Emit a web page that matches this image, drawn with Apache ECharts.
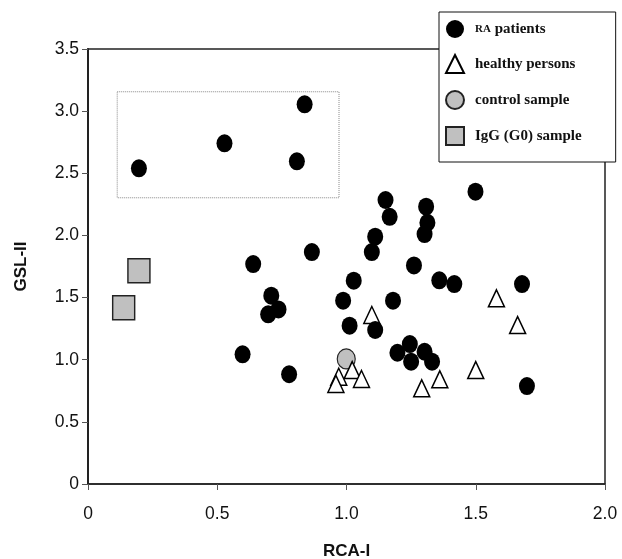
<!DOCTYPE html>
<html>
<head>
<meta charset="utf-8">
<script src="https://cdn.jsdelivr.net/npm/echarts@6/dist/echarts.min.js"></script>
<style>html,body{margin:0;padding:0;background:#fff}#c{width:622px;height:559px}</style>
</head>
<body>
<div id="c"></div>
<script>
// RCA-I (x) and GSL-II (y) values
const raPatients = [
  [0.197,2.540],[0.528,2.741],[0.838,3.055],[0.808,2.596],
  [0.639,1.770],[0.866,1.866],[0.709,1.515],[0.737,1.405],[0.697,1.365],
  [0.598,1.043],[0.778,0.883],[1.028,1.636],[0.987,1.475],[1.012,1.274],
  [1.499,2.352],[1.151,2.285],[1.167,2.150],[1.308,2.231],[1.313,2.102],
  [1.302,2.011],[1.111,1.990],[1.098,1.866],[1.261,1.759],[1.359,1.639],
  [1.417,1.609],[1.679,1.609],[1.180,1.475],[1.111,1.239],[1.245,1.126],
  [1.197,1.056],[1.302,1.064],[1.250,0.984],[1.331,0.984],[1.698,0.788]
];
const healthyPersons = [
  [1.580,1.494],[1.662,1.279],[1.098,1.360],[1.022,0.917],[1.058,0.845],
  [0.970,0.863],[0.959,0.805],[1.291,0.770],[1.361,0.842],[1.500,0.917]
];
const controlSample = [[0.999,1.006]];
const iggSample = [[0.197,1.716],[0.138,1.418]];
const highlightBox = [[0.113,3.156],[0.971,2.303]];
const seriesNames = ['RA patients','healthy persons','control sample','IgG (G0) sample'];
const xTicks = [0,0.5,1.0,1.5,2.0];
const yTicks = [0,0.5,1.0,1.5,2.0,2.5,3.0,3.5];

const fmt = v => v === 0 ? '0' : v.toFixed(1);
const chart = echarts.init(document.getElementById('c'), null, {renderer:'canvas'});
chart.setOption({
  animation:false,
  backgroundColor:'#fff',
  grid:{left:88,right:17,top:49,bottom:75,outerBoundsMode:'none',containLabel:false,show:true,borderColor:'#222',borderWidth:1.5,backgroundColor:'transparent'},
  xAxis:{
    type:'value',min:xTicks[0],max:xTicks[xTicks.length-1],interval:0.5,
    name:'RCA-I',nameLocation:'middle',nameGap:59,
    nameTextStyle:{fontFamily:'Liberation Sans',fontWeight:'bold',fontSize:17,color:'#111'},
    axisLine:{lineStyle:{color:'#222',width:1.5}},
    axisTick:{show:true,inside:false,length:6,lineStyle:{color:'#555',width:1}},
    axisLabel:{formatter:fmt,fontFamily:'Liberation Sans',fontSize:17.5,color:'#111',margin:21},
    splitLine:{show:false}
  },
  yAxis:{
    type:'value',min:yTicks[0],max:yTicks[yTicks.length-1],interval:0.5,
    name:'GSL-II',nameLocation:'middle',nameGap:58,nameRotate:90,
    nameTextStyle:{fontFamily:'Liberation Sans',fontWeight:'bold',fontSize:17,color:'#111'},
    axisLine:{lineStyle:{color:'#222',width:2}},
    axisTick:{show:true,inside:false,length:6,lineStyle:{color:'#555',width:1}},
    axisLabel:{formatter:fmt,fontFamily:'Liberation Sans',fontSize:17.5,color:'#111',margin:9},
    splitLine:{show:false}
  },
  legend:{
    data:seriesNames,orient:'vertical',left:439,top:12,
    backgroundColor:'#fff',borderColor:'#111',borderWidth:1,
    padding:[8,34,16,6],itemWidth:18,itemHeight:18,itemGap:16,
    textStyle:{fontFamily:'Liberation Serif',fontWeight:'bold',fontSize:15,color:'#111',padding:[0,0,0,6],
      rich:{s:{fontFamily:'Liberation Serif',fontWeight:'bold',fontSize:11,color:'#111'}}},
    formatter:name => name === 'RA patients' ? '{s|RA} patients' : name,
    z:10
  },
  series:[
    {name:seriesNames[2],type:'scatter',data:controlSample,symbol:'circle',symbolSize:[18,20],z:2,
      itemStyle:{color:'#c0c0c0',borderColor:'#222',borderWidth:1.2,opacity:1}},
    {name:seriesNames[1],type:'scatter',data:healthyPersons,symbol:'triangle',symbolSize:[16,17],z:3,
      itemStyle:{color:'#fff',borderColor:'#000',borderWidth:1.5,opacity:1}},
    {name:seriesNames[0],type:'scatter',data:raPatients,symbol:'circle',symbolSize:[16,18],z:4,
      itemStyle:{color:'#000',opacity:1},
      markArea:{silent:true,
        itemStyle:{color:'rgba(0,0,0,0)',borderColor:'#888',borderWidth:1,borderType:'dotted'},
        data:[[{coord:highlightBox[0]},{coord:highlightBox[1]}]]}},
    {name:seriesNames[3],type:'scatter',data:iggSample,symbol:'rect',symbolSize:[22,24],z:5,
      itemStyle:{color:'#c0c0c0',borderColor:'#222',borderWidth:1.5,opacity:1}}
  ]
});
</script>
</body>
</html>
